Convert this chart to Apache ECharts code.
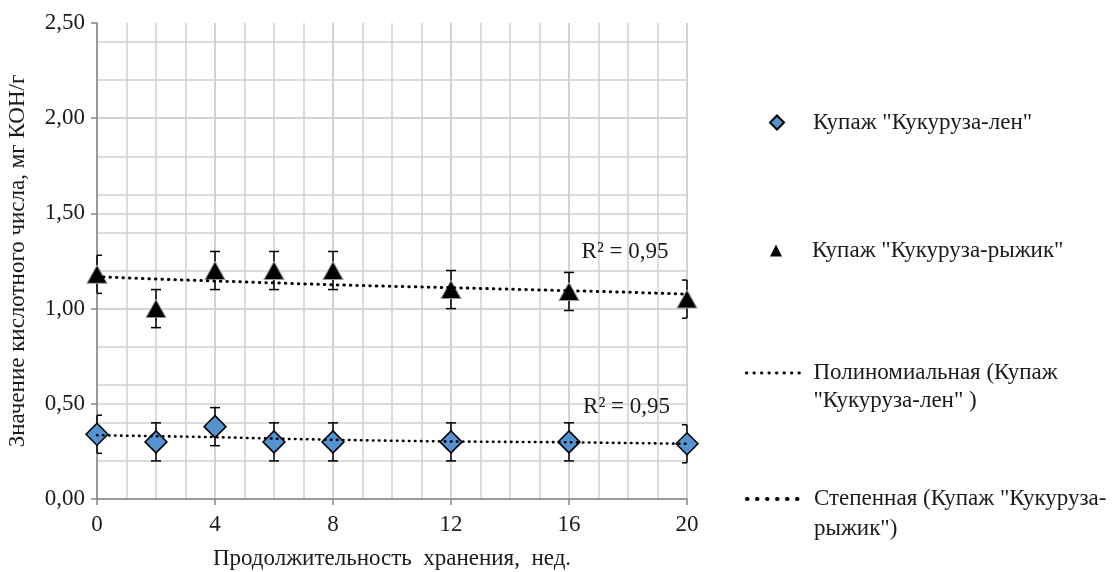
<!DOCTYPE html>
<html>
<head>
<meta charset="utf-8">
<script src="https://cdn.jsdelivr.net/npm/echarts@6/dist/echarts.min.js"></script>
<style>
html,body{margin:0;padding:0;background:#fff;}
#chart{width:1118px;height:572px;}
</style>
</head>
<body>
<div id="chart"></div>
<script>
// ---- data ----
const weeks = [0, 2, 4, 6, 8, 12, 16, 20];
const lenValues = [0.34, 0.30, 0.38, 0.30, 0.30, 0.30, 0.30, 0.29];
const lenErrors = [0.10, 0.10, 0.10, 0.10, 0.10, 0.10, 0.10, 0.10];
const ryzhikValues = [1.18, 1.00, 1.20, 1.20, 1.20, 1.10, 1.09, 1.05];
const ryzhikErrors = [0.10, 0.10, 0.10, 0.10, 0.10, 0.10, 0.10, 0.10];
const trendX = [0, 2, 4, 6, 8, 10, 12, 14, 16, 18, 20];
const polyTrend = [0.335, 0.330, 0.325, 0.317, 0.311, 0.306, 0.302, 0.300, 0.298, 0.294, 0.290];
const powerTrend = [1.168, 1.155, 1.145, 1.135, 1.125, 1.117, 1.110, 1.102, 1.094, 1.086, 1.076];
const xTickLabels = [0, 4, 8, 12, 16, 20];
const yTickLabels = ['0,00', '0,50', '1,00', '1,50', '2,00', '2,50'];
const r2Text = 'R² = 0,95';

const nameLen = 'Купаж "Кукуруза-лен"';
const nameRyz = 'Купаж "Кукуруза-рыжик"';
const namePoly = 'Полиномиальная (Купаж "Кукуруза-лен" )';
const namePow = 'Степенная (Купаж "Кукуруза-рыжик")';

const FONT = '"Liberation Serif", "Times New Roman", serif';
const FS = 23;
const TXT = '#1a1a1a';
const GRID = '#d0d0d0';
const AXIS = '#868686';

function pairs(xs, ys) { return xs.map((x, i) => [x, ys[i]]); }
function errData(xs, ys, es) { return xs.map((x, i) => [x, ys[i] - es[i], ys[i] + es[i]]); }

function errorRender(params, api) {
  const x = api.value(0);
  const lo = api.coord([x, api.value(1)]);
  const hi = api.coord([x, api.value(2)]);
  const cs = params.coordSys;
  const half = 5;
  const clampX = v => Math.max(cs.x, Math.min(cs.x + cs.width, v));
  const style = { stroke: '#000', lineWidth: 1.5, fill: null };
  return {
    type: 'group',
    children: [
      { type: 'line', shape: { x1: lo[0], y1: lo[1], x2: hi[0], y2: hi[1] }, style },
      { type: 'line', shape: { x1: clampX(hi[0] - half), y1: hi[1], x2: clampX(hi[0] + half), y2: hi[1] }, style },
      { type: 'line', shape: { x1: clampX(lo[0] - half), y1: lo[1], x2: clampX(lo[0] + half), y2: lo[1] }, style }
    ]
  };
}

const chart = echarts.init(document.getElementById('chart'), null, { renderer: 'canvas' });

const baseText = { fontFamily: FONT, fontSize: FS, color: TXT };
function legendCfg(extra) {
  return Object.assign({ orient: 'vertical', padding: 0, selectedMode: false }, extra);
}

chart.setOption({
  animation: false,
  backgroundColor: '#fff',
  grid: { left: 97, right: 431, top: 23, bottom: 73, containLabel: false, outerBoundsMode: 'none' },
  xAxis: [
    {
      type: 'value', min: 0, max: 20, interval: 4,
      name: 'Продолжительность  хранения,  нед.',
      nameLocation: 'middle', nameGap: 48,
      nameTextStyle: baseText,
      axisLine: { show: true, lineStyle: { color: AXIS, width: 1.5 } },
      axisTick: { show: true, length: 6, lineStyle: { color: AXIS, width: 1.5 } },
      axisLabel: Object.assign({}, baseText, {
        margin: 14,
        formatter: v => (xTickLabels.indexOf(v) >= 0 ? String(v) : '')
      }),
      splitLine: { show: true, lineStyle: { color: GRID, width: 1.5 } }
    },
    {
      type: 'value', min: 0, max: 20, interval: 1, position: 'bottom',
      axisLine: { show: false }, axisTick: { show: false }, axisLabel: { show: false },
      splitLine: { show: true, lineStyle: { color: GRID, width: 1.5 } }
    }
  ],
  yAxis: [
    {
      type: 'value', min: 0, max: 2.5, interval: 0.5,
      name: 'Значение кислотного числа, мг КОН/г',
      nameLocation: 'middle', nameGap: 68,
      nameTextStyle: baseText,
      axisLine: { show: true, lineStyle: { color: AXIS, width: 1.5 } },
      axisTick: { show: true, length: 6, lineStyle: { color: AXIS, width: 1.5 } },
      axisLabel: Object.assign({}, baseText, {
        margin: 12,
        formatter: (v) => yTickLabels[Math.round(v / 0.5)]
      }),
      splitLine: { show: true, showMaxLine: false, lineStyle: { color: GRID, width: 1.5 } }
    },
    {
      type: 'value', min: 0, max: 2.5, interval: 0.2, position: 'left',
      axisLine: { show: false }, axisTick: { show: false }, axisLabel: { show: false },
      splitLine: { show: true, showMaxLine: false, lineStyle: { color: GRID, width: 1.5 } }
    }
  ],
  legend: [
    legendCfg({
      data: [{ name: nameLen, icon: 'diamond' }],
      left: 769, top: 111, itemWidth: 14, itemHeight: 14,
      textStyle: Object.assign({}, baseText, { padding: [0, 0, 0, 24] })
    }),
    legendCfg({
      data: [{ name: nameRyz, icon: 'triangle' }],
      left: 770, top: 239, itemWidth: 12, itemHeight: 12,
      itemStyle: { borderWidth: 0 },
      textStyle: Object.assign({}, baseText, { padding: [0, 0, 0, 25] })
    }),
    legendCfg({
      data: [namePoly],
      left: 745, top: 331, itemWidth: 57, itemHeight: 14,
      itemStyle: { opacity: 0 },
      lineStyle: { color: '#000', width: 2.8, type: [0.5, 7], cap: 'round' },
      formatter: () => '\nПолиномиальная (Купаж\n"Кукуруза-лен" )',
      textStyle: Object.assign({}, baseText, { lineHeight: 28, padding: [0, 0, 0, 5] })
    }),
    legendCfg({
      data: [namePow],
      left: 745, top: 454, itemWidth: 57, itemHeight: 14,
      itemStyle: { opacity: 0 },
      lineStyle: { color: '#000', width: 4, type: [0.5, 9.5], cap: 'round' },
      formatter: () => '\nСтепенная (Купаж "Кукуруза-\nрыжик")',
      textStyle: Object.assign({}, baseText, { lineHeight: 30, padding: [0, 0, 0, 5] })
    })
  ],
  series: [
    {
      type: 'custom', name: 'errLen', xAxisIndex: 0, yAxisIndex: 0, z: 2,
      renderItem: errorRender, data: errData(weeks, lenValues, lenErrors),
      encode: { x: 0, y: [1, 2] }, silent: true
    },
    {
      type: 'custom', name: 'errRyz', xAxisIndex: 0, yAxisIndex: 0, z: 2,
      renderItem: errorRender, data: errData(weeks, ryzhikValues, ryzhikErrors),
      encode: { x: 0, y: [1, 2] }, silent: true
    },
    {
      type: 'scatter', name: nameLen, xAxisIndex: 0, yAxisIndex: 0, z: 3,
      symbol: 'diamond', symbolSize: [22, 22],
      itemStyle: { color: '#5592d0', borderColor: '#000', borderWidth: 1.5, opacity: 1 },
      data: pairs(weeks, lenValues)
    },
    {
      type: 'scatter', name: nameRyz, xAxisIndex: 0, yAxisIndex: 0, z: 3,
      symbol: 'triangle', symbolSize: [20, 18],
      itemStyle: { color: '#000', borderColor: '#9a9a9a', borderWidth: 1, opacity: 1 },
      data: pairs(weeks, ryzhikValues)
    },
    {
      type: 'line', name: namePoly, xAxisIndex: 0, yAxisIndex: 0, z: 5,
      symbol: 'none', smooth: false, color: '#000',
      lineStyle: { color: '#000', width: 2.6, type: [0.5, 5.5], cap: 'round' },
      data: pairs(trendX, polyTrend),
      markPoint: {
        symbol: 'circle', symbolSize: 1, silent: true,
        itemStyle: { color: 'rgba(0,0,0,0)' },
        data: [{ coord: [17.95, 0.483], value: 0 }],
        label: Object.assign({ show: true, position: 'inside', formatter: r2Text }, baseText)
      }
    },
    {
      type: 'line', name: namePow, xAxisIndex: 0, yAxisIndex: 0, z: 5,
      symbol: 'none', smooth: false, color: '#000',
      lineStyle: { color: '#000', width: 3, type: [0.5, 6], cap: 'round' },
      data: pairs(trendX, powerTrend),
      markPoint: {
        symbol: 'circle', symbolSize: 1, silent: true,
        itemStyle: { color: 'rgba(0,0,0,0)' },
        data: [{ coord: [17.9, 1.297], value: 0 }],
        label: Object.assign({ show: true, position: 'inside', formatter: r2Text }, baseText)
      }
    }
  ]
});
</script>
</body>
</html>
